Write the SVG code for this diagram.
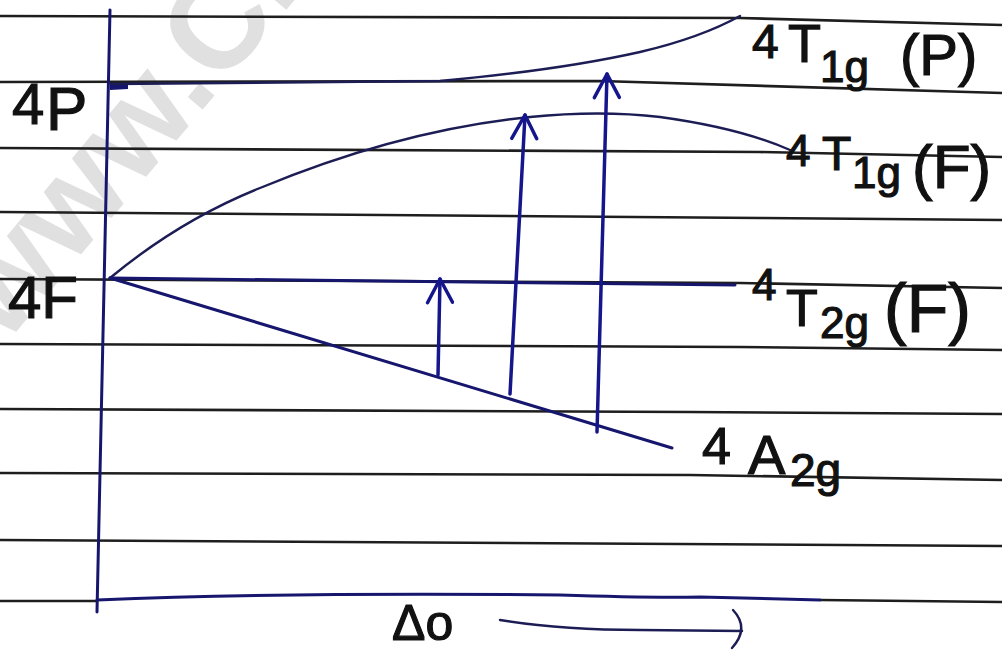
<svg xmlns="http://www.w3.org/2000/svg" width="1002" height="655" viewBox="0 0 1002 655">
<style>
.paper{fill:none;stroke:#1e1e1e;stroke-width:2.6}
.ink{fill:none;stroke:#16166e;stroke-width:3;stroke-linecap:round;stroke-linejoin:round}
.thin{fill:none;stroke:#1d1d55;stroke-width:2.4;stroke-linecap:round}
.arr{fill:none;stroke:#15158c;stroke-width:3.5;stroke-linecap:round;stroke-linejoin:round}
.lbl{font-family:"Liberation Sans","DejaVu Sans",sans-serif;fill:#111;stroke:#111;stroke-width:1.2}
.wm{font-family:"Liberation Sans",sans-serif;font-weight:bold;fill:#e0e0e0}
</style>
<defs>
<marker id="head" viewBox="0 0 30 30" refX="27" refY="15" markerWidth="30" markerHeight="30" markerUnits="userSpaceOnUse" orient="auto">
<path d="M3,3 L27,15 L4,28" fill="none" stroke="#15158c" stroke-width="3.5" stroke-linecap="round" stroke-linejoin="round"/>
</marker>
</defs>
<rect width="1002" height="655" fill="#ffffff"/>
<g id="watermark">
<text class="wm" x="0" y="0" font-size="130" transform="translate(5,345) rotate(-50)">www.Ch</text>
</g>
<g id="paper-lines">
<path class="paper" d="M0,16 L740,18 L1002,25"/>
<path class="paper" d="M0,82 L600,81 L1002,93"/>
<path class="paper" d="M0,148 L760,152 L1002,157"/>
<path class="paper" d="M0,212 L760,218 L1002,220"/>
<path class="paper" d="M0,279 L740,283 L1002,288"/>
<path class="paper" d="M0,344 L740,347 L1002,350"/>
<path class="paper" d="M0,409 L690,412 L1002,414"/>
<path class="paper" d="M0,473 L690,475 L1002,480"/>
<path class="paper" d="M0,540 L1002,546"/>
<path class="paper" d="M0,601 L97,601"/>
<path class="paper" d="M820,600 L1002,602"/>
</g>
<g id="axes">
<path class="ink" d="M110,10 L97,612"/>
<path class="ink" d="M97,600 Q300,592 560,595 Q650,598 700,597 L820,600"/>
<path d="M110,83 L128,84 L128,89 L110,90 Z" fill="#16166e"/>
</g>
<g id="curves">
<path class="thin" d="M112,84 L440,81 Q560,70 640,52 Q700,38 740,16"/>
<path class="thin" d="M110,278 Q180,220 260,188 Q400,130 530,117 Q600,110 660,117 Q740,128 790,150"/>
<path class="ink" d="M110,278 L735,285"/>
<path class="ink" d="M110,278 L672,448"/>
</g>
<g id="connectors">
<path class="arr" d="M438,375 L440,279" marker-end="url(#head)"/>
<path class="arr" d="M510,394 L525,115" marker-end="url(#head)"/>
<path class="arr" d="M597,432 L607,74" marker-end="url(#head)"/>
<path class="thin" d="M500,620 Q560,630 640,630 L742,631"/>
<path class="thin" d="M733,610 Q750,628 732,648"/>
</g>
<g id="label-4P">
<text class="lbl" x="12" y="124" font-size="58">4</text>
<text class="lbl" x="46" y="130" font-size="62">P</text>
</g>
<g id="label-4F">
<text class="lbl" x="8" y="318" font-size="60">4F</text>
</g>
<g id="label-T1gP">
<text class="lbl" x="752" y="58" font-size="48">4</text>
<text class="lbl" x="788" y="62" font-size="54">T</text>
<text class="lbl" x="820" y="82" font-size="44">1g</text>
<text class="lbl" x="900" y="75" font-size="58">(P)</text>
</g>
<g id="label-T1gF">
<text class="lbl" x="786" y="166" font-size="44">4</text>
<text class="lbl" x="822" y="170" font-size="48">T</text>
<text class="lbl" x="852" y="188" font-size="44">1g</text>
<text class="lbl" x="912" y="188" font-size="62">(F)</text>
</g>
<g id="label-T2gF">
<text class="lbl" x="752" y="300" font-size="44">4</text>
<text class="lbl" x="786" y="326" font-size="52">T</text>
<text class="lbl" x="820" y="338" font-size="44">2g</text>
<text class="lbl" x="884" y="332" font-size="68">(F)</text>
</g>
<g id="label-A2g">
<text class="lbl" x="702" y="464" font-size="52">4</text>
<text class="lbl" x="748" y="474" font-size="56">A</text>
<text class="lbl" x="790" y="486" font-size="46">2g</text>
</g>
<g id="label-delta">
<text class="lbl" x="392" y="640" font-size="50">Δo</text>
</g>
</svg>
